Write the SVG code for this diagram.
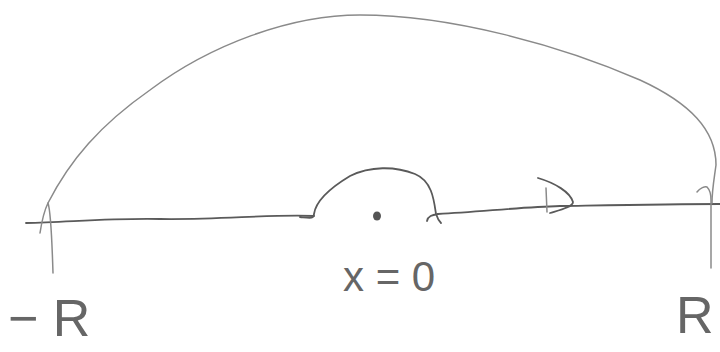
<svg xmlns="http://www.w3.org/2000/svg" width="720" height="352" viewBox="0 0 720 352">
<style>
.s{fill:none;stroke:#5a5a5a;stroke-width:1.8;stroke-linecap:round;stroke-linejoin:round}
.t{stroke:#8a8a8a;stroke-width:1.5}
.lbl{font-family:"Liberation Sans",Arial,sans-serif;fill:#666;font-weight:normal}
</style>
<rect width="720" height="352" fill="#fff"/>
<g id="connectors">
<path id="axis-left" class="s" d="M26,223 C70,222 110,218 160,219 C220,220 270,214 314,216"/>
<path id="indent" class="s" d="M300,217 C310,218 314,219 314,214 C316,200 330,188 350,176 C370,166 395,166 415,174 C432,181 434,200 436,214 C438,220 440,222 441,223"/>
<path id="indent-end" class="s" d="M427,221 C428,216 432,215 438,214"/>
<path id="axis-right" class="s" d="M438,214 C480,212 520,207 560,206 C620,205 670,204 720,204"/>
<path id="arrow" class="s" d="M538,178 C555,183 570,192 573,202 C573,207 560,210 550,213"/>
<path id="arrow-tick" class="s t" d="M546,188 L547,212"/>
<path id="big-arc" class="s t" d="M48,203 C70,160 100,125 150,90 C210,45 290,15 360,15 C450,15 560,45 640,80 C690,103 716,130 716,165 C714,180 712,190 712,203"/>
<path id="left-tick" class="s t" d="M40,233 C42,220 46,207 48,203 C51,212 52,240 53,273"/>
<path id="right-tick" class="s t" d="M697,192 C700,188 705,186 707,187 C710,190 711,194 711,200 L711,268"/>
<ellipse id="origin" cx="377" cy="216" rx="4" ry="4.5" fill="#555"/>
</g>
<g id="label-minus-r"><text class="lbl" x="8" y="336" font-size="52" xml:space="preserve">− R</text></g>
<g id="label-x0"><text class="lbl" x="343" y="291" font-size="42">x = 0</text></g>
<g id="label-r"><text class="lbl" x="676" y="333" font-size="52">R</text></g>
</svg>
